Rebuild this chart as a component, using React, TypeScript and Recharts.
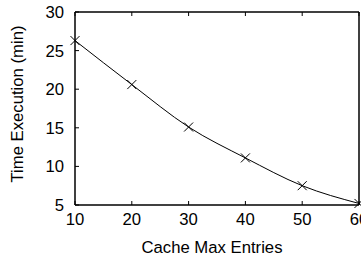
import React from 'react';
import { LineChart, Line, XAxis, YAxis } from 'recharts';

const entries = [10, 20, 30, 40, 50, 60];
const times = [26.3, 20.6, 15.1, 11.1, 7.5, 5.2];
const xTicks = [10, 20, 30, 40, 50, 60];
const yTicks = [5, 10, 15, 20, 25, 30];

const data = entries.map((e, i) => ({ entries: e, time: times[i] }));

const FONT = '"Liberation Sans", Arial, Helvetica, sans-serif';
const FS = 16.7;

const Cross = (props: any) => {
  const { cx, cy } = props;
  if (cx == null || cy == null) return null;
  const s = 4.5;
  return (
    <g>
      <line x1={cx - s} y1={cy - s} x2={cx + s} y2={cy + s} stroke="#000" strokeWidth={1} />
      <line x1={cx - s} y1={cy + s} x2={cx + s} y2={cy - s} stroke="#000" strokeWidth={1} />
    </g>
  );
};

const yLabel = () => (
  <text
    x={17}
    y={104}
    transform="rotate(-90 17 104)"
    textAnchor="middle"
    dominantBaseline="central"
    fontFamily={FONT}
    fontSize={FS}
    fill="#000"
  >
    Time Execution (min)
  </text>
);

const xLabel = () => (
  <text x={212} y={253} textAnchor="middle" fontFamily={FONT} fontSize={FS} fill="#000">
    Cache Max Entries
  </text>
);

export default function App() {
  const tickStyle = { fontFamily: FONT, fontSize: FS, fill: '#000' };
  return (
    <div style={{ position: 'absolute', left: 0, top: 0 }}>
      <LineChart width={361} height={260} data={data} margin={{ top: 0, right: 0, bottom: 0, left: 0 }}>
        <XAxis
          xAxisId="bottom"
          dataKey="entries"
          type="number"
          domain={[10, 60]}
          ticks={xTicks}
          orientation="bottom"
          height={55}
          axisLine={{ stroke: '#000', strokeWidth: 1.5 }}
          tickLine={{ stroke: '#000', strokeWidth: 1 }}
          tickSize={-4}
          tickMargin={12}
          tick={tickStyle}
          interval={0}
          label={xLabel}
        />
        <XAxis
          xAxisId="top"
          dataKey="entries"
          type="number"
          domain={[10, 60]}
          ticks={xTicks}
          orientation="top"
          height={12}
          axisLine={{ stroke: '#000', strokeWidth: 1.5 }}
          tickLine={{ stroke: '#000', strokeWidth: 1 }}
          tickSize={-4}
          tickFormatter={() => ''}
          interval={0}
        />
        <YAxis
          yAxisId="left"
          type="number"
          domain={[5, 30]}
          ticks={yTicks}
          orientation="left"
          width={75}
          axisLine={{ stroke: '#000', strokeWidth: 1.5 }}
          tickLine={{ stroke: '#000', strokeWidth: 1 }}
          tickSize={-4}
          tickMargin={15}
          tick={tickStyle}
          interval={0}
          label={yLabel}
        />
        <YAxis
          yAxisId="right"
          type="number"
          domain={[5, 30]}
          ticks={yTicks}
          orientation="right"
          width={2}
          axisLine={{ stroke: '#000', strokeWidth: 1.5 }}
          tickLine={{ stroke: '#000', strokeWidth: 1 }}
          tickSize={-4}
          tickFormatter={() => ''}
          interval={0}
        />
        <Line
          xAxisId="bottom"
          yAxisId="left"
          dataKey="time"
          type="monotone"
          stroke="#000"
          strokeWidth={1}
          dot={<Cross />}
          activeDot={false}
          isAnimationActive={false}
        />
      </LineChart>
    </div>
  );
}
